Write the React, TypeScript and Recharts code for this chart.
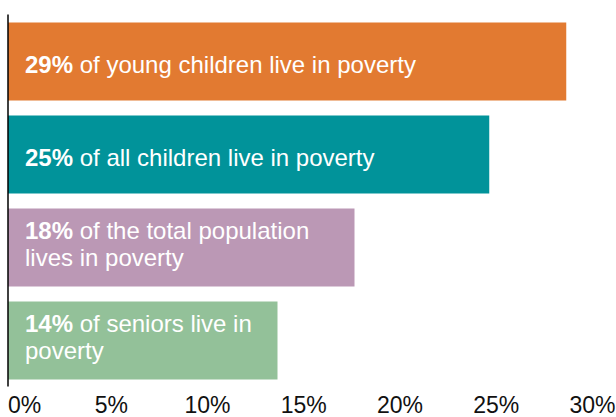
import { BarChart, Bar, XAxis, YAxis, Cell, ReferenceLine } from "recharts";

const groups = ["Young children", "All children", "Total population", "Seniors"];
const povertyRates = [29, 25, 18, 14];
const labelLines = [
  ["of young children live in poverty"],
  ["of all children live in poverty"],
  ["of the total population", "lives in poverty"],
  ["of seniors live in", "poverty"],
];
const xTicks = [0, 5, 10, 15, 20, 25, 30];

const barColors = ["#E27A31", "#01939A", "#BB98B5", "#93C199"];
const font = "'Liberation Sans', Arial, sans-serif";

const data = groups.map((g, i) => ({
  group: g,
  rate: povertyRates[i],
  lines: labelLines[i],
}));

function BarWithText(props: any) {
  const { x, y, width, height, fill, payload } = props;
  const lines: string[] = payload.lines;
  const cy = y + height / 2;
  const first = cy + 11 - (lines.length - 1) * 20;
  return (
    <g>
      <rect x={x} y={y} width={width} height={height} fill={fill} />
      {lines.map((line, i) => (
        <text
          key={i}
          x={x + 17}
          y={first + i * 27}
          fill="#ffffff"
          fontSize={24}
          fontFamily={font}
        >
          {i === 0 && <tspan fontWeight="bold">{payload.rate}%</tspan>}
          <tspan>{i === 0 ? " " + line : line}</tspan>
        </text>
      ))}
    </g>
  );
}

function PercentTick(props: any) {
  const { x, y, payload, index } = props;
  const first = index === 0;
  return (
    <text
      x={first ? x : x + 7}
      y={y}
      dy="0.71em"
      textAnchor={first ? "start" : "middle"}
      fontSize={23}
      fontFamily={font}
      fill="#111111"
    >
      {payload.value}%
    </text>
  );
}

export default function App() {
  return (
    <div style={{ position: "absolute", left: 0, top: 0 }}>
      <BarChart
        width={616}
        height={417}
        data={data}
        layout="vertical"
        margin={{ top: 14.5, right: 30.5, left: 8, bottom: 0 }}
        barCategoryGap={15}
      >
        <XAxis
          type="number"
          domain={[0, 30]}
          ticks={xTicks}
          axisLine={false}
          tickLine={false}
          tick={PercentTick}
          height={30.5}
          tickMargin={4}
          interval={0}
        />
        <YAxis
          type="category"
          dataKey="group"
          width={0}
          tick={false}
          tickLine={false}
          axisLine={false}
        />
        <Bar
          dataKey="rate"
          barSize={78}
          isAnimationActive={false}
          shape={BarWithText}
        >
          {data.map((d, i) => (
            <Cell key={d.group} fill={barColors[i]} />
          ))}
        </Bar>
        <ReferenceLine x={0} stroke="#000000" strokeWidth={1.5} />
      </BarChart>
    </div>
  );
}
